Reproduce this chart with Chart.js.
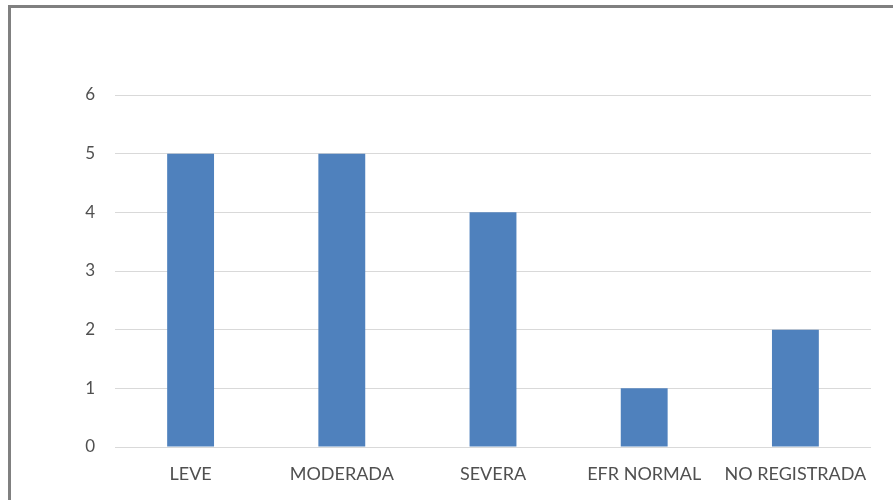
<!DOCTYPE html>
<html>
<head>
<meta charset="utf-8">
<script src="https://cdn.jsdelivr.net/npm/chart.js@4"></script>
<style>
  html, body { margin: 0; padding: 0; background: #fff; }
  #marco {
    position: absolute; left: 8px; top: 5px; width: 900px; height: 510px;
    border-top: 3px solid #808080; border-left: 3px solid #808080;
  }
  #wrap { position: absolute; left: 0; top: 0; width: 893px; height: 500px; }
</style>
</head>
<body>
<div id="marco"></div>
<div id="wrap"><canvas id="grafico"></canvas></div>
<script>
// Dados
const categorias = ['LEVE', 'MODERADA', 'SEVERA', 'EFR NORMAL', 'NO REGISTRADA'];
const valores = [5, 5, 4, 1, 2];
const ticksY = [0, 1, 2, 3, 4, 5, 6];

const ctx = document.getElementById('grafico').getContext('2d');
new Chart(ctx, {
  type: 'bar',
  data: {
    labels: categorias,
    datasets: [
      {
        data: valores,
        backgroundColor: '#4f81bd',
        categoryPercentage: 1,
        barPercentage: 0.31,
      },
    ],
  },
  options: {
    responsive: true,
    maintainAspectRatio: false,
    animation: false,
    layout: { padding: { top: 95, right: 22, bottom: 16, left: 0 } },
    plugins: { legend: { display: false }, tooltip: { enabled: false } },
    scales: {
      x: {
        afterFit: (scale) => {
          scale.height = 37;
        },
        grid: { display: false, drawTicks: false },
        border: { display: false },
        ticks: {
          color: '#505050',
          font: { family: 'Lato', size: 18 },
          padding: 16,
          maxRotation: 0,
          autoSkip: false,
        },
      },
      y: {
        min: 0,
        max: 6,
        afterBuildTicks: (scale) => {
          scale.ticks = ticksY.map((v) => ({ value: v }));
        },
        afterFit: (scale) => {
          scale.width = 115;
        },
        grid: { color: '#d9d9d9', drawTicks: false },
        border: { display: false },
        ticks: {
          color: '#505050',
          font: { family: 'Lato', size: 17 },
          padding: 20,
        },
      },
    },
  },
});
</script>
</body>
</html>
